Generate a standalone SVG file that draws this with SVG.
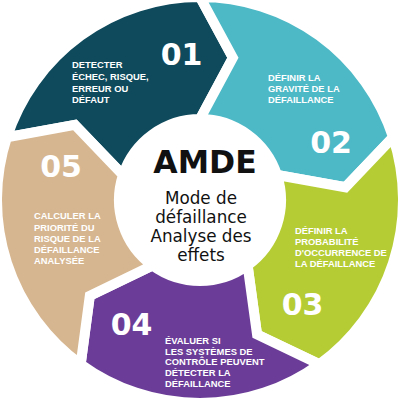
<svg xmlns="http://www.w3.org/2000/svg" width="400" height="400" viewBox="0 0 400 400">
<style>
.seg{stroke:#fff;stroke-width:10;stroke-linejoin:miter}
.num{font-family:"DejaVu Sans",sans-serif;font-weight:bold;font-size:30px;fill:#fff;text-anchor:middle}
.lbl{font-family:"Liberation Sans",Arial,sans-serif;font-weight:bold;font-size:9.4px;fill:#fff}
.ctr{font-family:"DejaVu Sans",sans-serif;font-size:16.8px;fill:#111;text-anchor:middle}
.title{font-family:"DejaVu Sans",sans-serif;font-weight:bold;font-size:31.5px;fill:#111;text-anchor:middle}
</style>
<rect width="400" height="400" fill="#fff"/>
<g id="step1">
<path class="seg" fill="#0e4a5c" d="M6.93,137.27 A203,203 0 0 1 200,-3 L232.85,57.74 L200,119 A81,81 0 0 0 122.96,174.97 L74.85,124.81 Z"/>
<text class="num" x="181.5" y="65">01</text>
<text class="lbl"><tspan x="72" y="68">DETECTER</tspan><tspan x="72" y="80">ÉCHEC, RISQUE,</tspan><tspan x="72" y="92">ERREUR OU</tspan><tspan x="72" y="103">DÉFAUT</tspan></text>
</g>
<g id="step2">
<path class="seg" fill="#4db8c6" d="M200,-3 A203,203 0 0 1 393.07,137.27 L345.45,187.27 L277.04,174.97 A81,81 0 0 0 200,119 L232.85,57.74 Z"/>
<text class="num" x="331" y="153">02</text>
<text class="lbl"><tspan x="268" y="81">DÉFINIR LA</tspan><tspan x="268" y="92">GRAVITÉ DE LA</tspan><tspan x="268" y="103">DÉFAILLANCE</tspan></text>
</g>
<g id="step3">
<path class="seg" fill="#b6cc35" d="M393.07,137.27 A203,203 0 0 1 319.32,364.23 L257.04,334.39 L247.61,265.53 A81,81 0 0 0 277.04,174.97 L345.45,187.27 Z"/>
<text class="num" x="302.5" y="315">03</text>
<text class="lbl"><tspan x="295" y="233.5">DÉFINIR LA</tspan><tspan x="295" y="244.5">PROBABILITÉ</tspan><tspan x="295" y="255.5">D'OCCURRENCE DE</tspan><tspan x="295" y="266.5">LA DÉFAILLANCE</tspan></text>
</g>
<g id="step4">
<path class="seg" fill="#6b3d98" d="M319.32,364.23 A203,203 0 0 1 80.68,364.23 L89.81,295.79 L152.39,265.53 A81,81 0 0 0 247.61,265.53 L257.04,334.39 Z"/>
<text class="num" x="131.5" y="335">04</text>
<text class="lbl"><tspan x="165" y="344">ÉVALUER SI</tspan><tspan x="165" y="354.5">LES SYSTÈMES DE</tspan><tspan x="165" y="365">CONTRÔLE PEUVENT</tspan><tspan x="165" y="375.5">DÉTECTER LA</tspan><tspan x="165" y="386.5">DÉFAILLANCE</tspan></text>
</g>
<g id="step5">
<path class="seg" fill="#d6b690" d="M80.68,364.23 A203,203 0 0 1 6.93,137.27 L74.85,124.81 L122.96,174.97 A81,81 0 0 0 152.39,265.53 L89.81,295.79 Z"/>
<text class="num" x="61" y="177">05</text>
<text class="lbl"><tspan x="34" y="219">CALCULER LA</tspan><tspan x="34" y="230.5">PRIORITÉ DU</tspan><tspan x="34" y="241.5">RISQUE DE LA</tspan><tspan x="34" y="252.5">DÉFAILLANCE</tspan><tspan x="34" y="263.5">ANALYSÉE</tspan></text>
</g>
<g id="center">
<text class="title" x="205" y="173">AMDE</text>
<text class="ctr"><tspan x="201" y="204">Mode de</tspan><tspan x="201" y="223">défaillance</tspan><tspan x="201" y="242">Analyse des</tspan><tspan x="201" y="261">effets</tspan></text>
</g>
<g id="connectors"/>
</svg>
